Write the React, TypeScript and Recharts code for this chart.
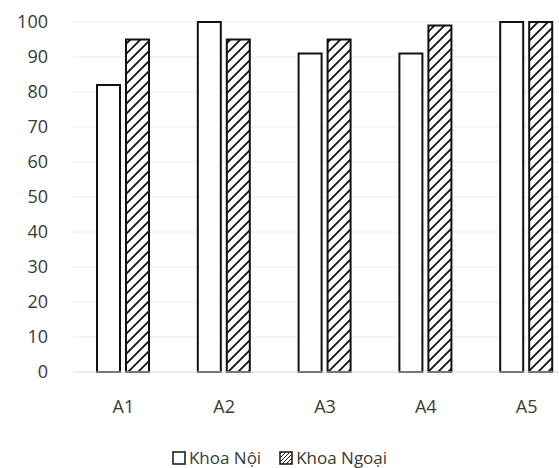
import React from "react";
import { BarChart, Bar, XAxis, YAxis, CartesianGrid, Legend } from "recharts";

const categories = ["A1", "A2", "A3", "A4", "A5"];
const khoaNoi = [82, 100, 91, 91, 100];
const khoaNgoai = [95, 95, 95, 99, 100];
const yTicks = [0, 10, 20, 30, 40, 50, 60, 70, 80, 90, 100];
const seriesNames = ["Khoa Nội", "Khoa Ngoại"];

const data = categories.map((c, i) => ({ name: c, noi: khoaNoi[i], ngoai: khoaNgoai[i] }));

const FONT = "'Open Sans', sans-serif";
const TEXT = "#3a3a3a";

const LegendContent = () => (
  <div
    style={{
      display: "flex",
      justifyContent: "center",
      alignItems: "center",
      fontFamily: FONT,
      fontSize: 17,
      color: TEXT,
      width: 559,
    }}
  >
    <svg width={14} height={14} style={{ marginRight: 3 }}>
      <rect x={1} y={1} width={12} height={12} fill="#fff" stroke="#222" strokeWidth={1.6} />
    </svg>
    <span style={{ marginRight: 18 }}>{seriesNames[0]}</span>
    <svg width={14} height={14} style={{ marginRight: 3 }}>
      <rect x={1} y={1} width={12} height={12} fill="url(#hatchSmall)" stroke="#222" strokeWidth={1.6} />
    </svg>
    <span>{seriesNames[1]}</span>
  </div>
);

export default function App() {
  return (
    <div
      style={{
        position: "fixed",
        left: 0,
        top: 0,
        width: 559,
        height: 468,
        overflow: "hidden",
        background: "#fff",
      }}
    >
      <svg width={0} height={0} style={{ position: "absolute" }}>
        <defs>
          <pattern id="hatch" patternUnits="userSpaceOnUse" width={10} height={10}>
            <rect width={10} height={10} fill="#fff" />
            <path d="M-2,12 L12,-2 M-2,2 L2,-2 M8,12 L12,8" stroke="#111" strokeWidth={1.8} />
          </pattern>
          <pattern id="hatchSmall" patternUnits="userSpaceOnUse" width={4} height={4}>
            <rect width={4} height={4} fill="#fff" />
            <path d="M-1,5 L5,-1" stroke="#222" strokeWidth={1} />
          </pattern>
        </defs>
      </svg>
      <BarChart
        width={600}
        height={468}
        data={data}
        margin={{ top: 22, right: 23, bottom: 13, left: 0 }}
        barSize={23}
        barGap={6}
      >
        <CartesianGrid vertical={false} stroke="#ececec" />
        <XAxis
          dataKey="name"
          axisLine={{ stroke: "#e0e0e0" }}
          tickLine={false}
          tickSize={0}
          tickMargin={28}
          height={60}
          tick={{ fill: TEXT, fontSize: 18, fontFamily: FONT }}
        />
        <YAxis
          width={73}
          domain={[0, 100]}
          ticks={yTicks}
          axisLine={false}
          tickLine={false}
          tickSize={0}
          tickMargin={25}
          interval={0}
          tick={{ fill: TEXT, fontSize: 18, fontFamily: FONT }}
        />
        <Legend
          content={<LegendContent />}
          wrapperStyle={{ position: "absolute", left: 0, top: 446, width: 559 }}
        />
        <Bar dataKey="noi" name={seriesNames[0]} fill="#fff" stroke="#111" strokeWidth={2} isAnimationActive={false} />
        <Bar dataKey="ngoai" name={seriesNames[1]} fill="url(#hatch)" stroke="#111" strokeWidth={2} isAnimationActive={false} />
      </BarChart>
    </div>
  );
}
